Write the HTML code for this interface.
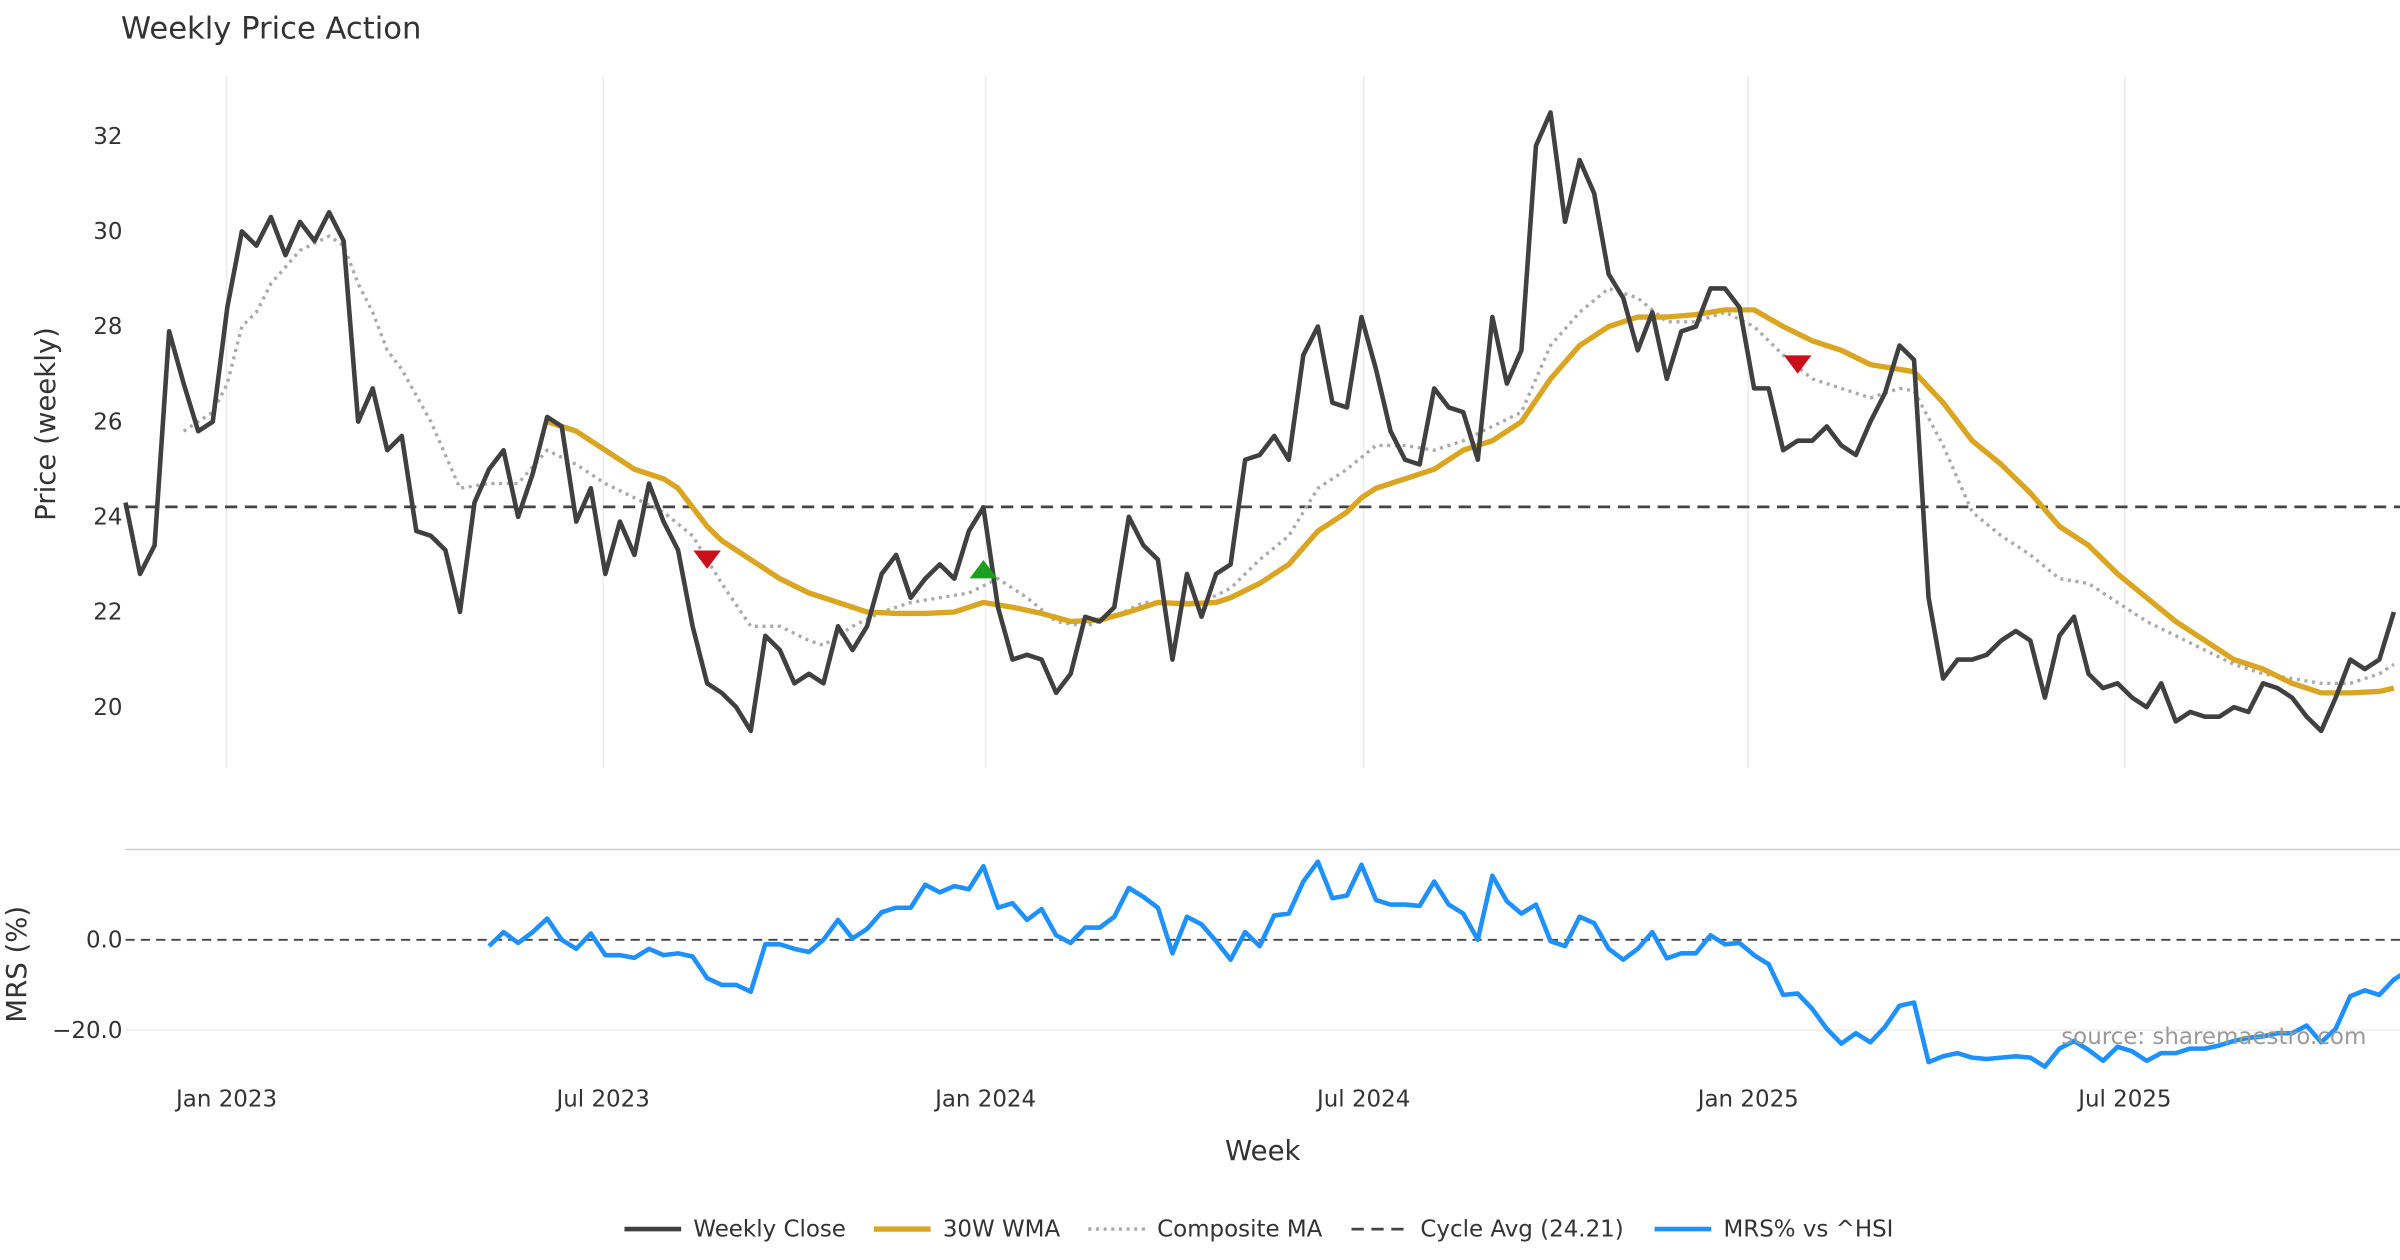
<!DOCTYPE html>
<html><head><meta charset="utf-8"><title>Weekly Price Action</title>
<style>html,body{margin:0;padding:0;background:#fff}svg{display:block;font-family:"DejaVu Sans","Liberation Sans",sans-serif}</style>
</head><body>
<svg id="chart" width="2400" height="1260" viewBox="0 0 1568 823.2" xmlns="http://www.w3.org/2000/svg">
<rect width="1568" height="823.2" fill="#fff"/>
<text x="79" y="25" font-size="20" fill="#333">Weekly Price Action</text>
<g id="grid"></g>
<g id="main"></g>
<g id="lower"></g>
<text transform="translate(36,277) rotate(-90)" text-anchor="middle" font-size="18" fill="#333">Price (weekly)</text>
<text transform="translate(17,630) rotate(-90)" text-anchor="middle" font-size="18" fill="#333">MRS (%)</text>
<text x="825" y="758" text-anchor="middle" font-size="18" fill="#333">Week</text>
<text x="1546" y="682" text-anchor="end" font-size="15" fill="#999">source: sharemaestro.com</text>
<g font-size="15" fill="#333">
  <g><line x1="408" y1="803" x2="445" y2="803" stroke="#404040" stroke-width="3"/><text x="453" y="808">Weekly Close</text></g>
  <g><line x1="571" y1="803" x2="608" y2="803" stroke="#DAA520" stroke-width="3.5"/><text x="616" y="808">30W WMA</text></g>
  <g><line x1="711" y1="803" x2="748" y2="803" stroke="#aaa" stroke-width="2.2" stroke-dasharray="2,3"/><text x="756" y="808">Composite MA</text></g>
  <g><line x1="883" y1="803" x2="920" y2="803" stroke="#444" stroke-width="1.8" stroke-dasharray="8,5"/><text x="928" y="808">Cycle Avg (24.21)</text></g>
  <g><line x1="1081" y1="803" x2="1118" y2="803" stroke="#1E90FF" stroke-width="3"/><text x="1126" y="808">MRS% vs ^HSI</text></g>
</g>
</svg>
<script>
const closeVals=[24.3,22.8,23.4,27.9,26.8,25.8,26.0,28.4,30.0,29.7,30.3,29.5,30.2,29.8,30.4,29.8,26.0,26.7,25.4,25.7,23.7,23.6,23.3,22.0,24.3,25.0,25.4,24.0,24.9,26.1,25.9,23.9,24.6,22.8,23.9,23.2,24.7,23.9,23.3,21.7,20.5,20.3,20.0,19.5,21.5,21.2,20.5,20.7,20.5,21.7,21.2,21.7,22.8,23.2,22.3,22.7,23.0,22.7,23.7,24.2,22.1,21.0,21.1,21.0,20.3,20.7,21.9,21.8,22.1,24.0,23.4,23.1,21.0,22.8,21.9,22.8,23.0,25.2,25.3,25.7,25.2,27.4,28.0,26.4,26.3,28.2,27.1,25.8,25.2,25.1,26.7,26.3,26.2,25.2,28.2,26.8,27.5,31.8,32.5,30.2,31.5,30.8,29.1,28.6,27.5,28.3,26.9,27.9,28.0,28.8,28.8,28.4,26.7,26.7,25.4,25.6,25.6,25.9,25.5,25.3,26.0,26.6,27.6,27.3,22.3,20.6,21.0,21.0,21.1,21.4,21.6,21.4,20.2,21.5,21.9,20.7,20.4,20.5,20.2,20.0,20.5,19.7,19.9,19.8,19.8,20.0,19.9,20.5,20.4,20.2,19.8,19.5,20.2,21.0,20.8,21.0,22.0];
const wmaWeeks=[29,31,32,33,35,37,38,39,40,41,43,45,47,49,51,53,55,57,59,61,63,65,67,69,71,73,75,76,78,80,82,84,85,86,88,90,92,94,96,98,100,102,104,106,108,110,112,114,116,118,120,122,123,125,127,129,131,133,135,137,139,141,143,145,147,149,151,153,155,156];
const wmaVals=[26.0,25.8,25.6,25.4,25.0,24.8,24.6,24.2,23.8,23.5,23.1,22.7,22.4,22.2,22.0,21.97,21.97,22.0,22.2,22.1,21.97,21.8,21.83,22.0,22.2,22.17,22.2,22.3,22.6,23.0,23.7,24.1,24.4,24.6,24.8,25.0,25.4,25.6,26.0,26.9,27.6,28.0,28.2,28.2,28.25,28.35,28.35,28.0,27.7,27.5,27.2,27.1,27.05,26.4,25.6,25.1,24.5,23.8,23.4,22.8,22.3,21.8,21.4,21.0,20.8,20.5,20.3,20.3,20.33,20.4];
const compWeeks=[4,6,7,8,9,10,12,14,15,16,17,18,19,21,23,25,27,29,31,33,35,37,39,41,43,45,47,48,50,52,54,56,58,60,62,64,66,68,70,72,74,76,78,80,82,84,86,88,90,92,94,96,98,100,102,104,106,108,110,112,114,116,118,120,122,123,125,127,129,131,133,135,137,139,141,143,145,147,149,151,153,155,156];
const compVals=[25.8,26.2,26.8,28.0,28.3,28.9,29.6,29.9,29.7,28.9,28.3,27.5,27.1,26.0,24.6,24.7,24.7,25.4,25.1,24.7,24.4,24.1,23.6,22.6,21.7,21.7,21.4,21.3,21.7,22.0,22.2,22.3,22.4,22.7,22.3,21.8,21.7,21.9,22.2,22.2,22.2,22.5,23.1,23.6,24.6,25.0,25.5,25.5,25.4,25.6,25.9,26.2,27.6,28.3,28.8,28.6,28.1,28.1,28.3,28.0,27.4,26.9,26.7,26.5,26.7,26.65,25.5,24.1,23.6,23.2,22.7,22.6,22.2,21.8,21.5,21.2,20.9,20.7,20.6,20.5,20.5,20.7,20.9];
const cycleAvg=24.21;
const signalWeeks=[40,59,115];
const signalVals=[23.1,22.9,27.2];
const signalTypes=["sell","buy","sell"];
const mrsStart=25;
const mrsVals=[-1.4,1.7,-0.7,1.7,4.7,0,-2,1.4,-3.4,-3.4,-4,-2,-3.4,-3,-3.7,-8.5,-10,-10,-11.5,-1,-1,-2,-2.7,0,4.4,0.3,2.4,6.1,7.1,7.1,12.2,10.5,11.9,11.2,16.3,7.1,8.1,4.4,6.8,1,-0.7,2.7,2.7,5.1,11.5,9.5,7.1,-3,5.1,3.4,-0.3,-4.4,1.7,-1.4,5.4,5.8,12.9,17.3,9.2,9.8,16.6,8.8,7.8,7.8,7.5,12.9,7.8,5.8,0,14.2,8.5,5.8,7.8,-0.3,-1.4,5.1,3.7,-2,-4.4,-2,1.7,-4.1,-3,-3,1,-1,-0.7,-3.4,-5.4,-12.2,-11.9,-15.3,-19.7,-23,-20.7,-22.7,-19.3,-14.6,-13.9,-27.1,-25.8,-25.1,-26.1,-26.4,-26.1,-25.8,-26.1,-28.1,-24.1,-22.4,-24.4,-26.8,-23.7,-24.7,-26.8,-25.1,-25.1,-24.1,-24.1,-23.4,-22.4,-21.7,-21.4,-20.7,-20.7,-19,-22.7,-19.7,-12.5,-11.2,-12.2,-8.8,-6.8];
const priceTicks=[20,22,24,26,28,30,32];
const mrsTicks=[0,-20];
const mrsTickLabels=["0.0","\u221220.0"];
const dateTickWeeks=[6.95,32.85,59.15,85.15,111.6,137.5];
const dateTickLabels=["Jan 2023","Jul 2023","Jan 2024","Jul 2024","Jan 2025","Jul 2025"];

const NS="http://www.w3.org/2000/svg";
const xS=i=>82+9.5*i;
const yP=v=>462-(v-20)*(373/12);
const yM=v=>614-v*2.95;
function mk(tag,attrs,parent){const e=document.createElementNS(NS,tag);for(const k in attrs)e.setAttribute(k,attrs[k]);parent.appendChild(e);return e;}
const grid=document.getElementById('grid'),main=document.getElementById('main'),lower=document.getElementById('lower');

dateTickWeeks.forEach((w,k)=>{
  const l=mk('line',{x1:xS(w),x2:xS(w),y1:50,y2:502,stroke:'#ebebeb','stroke-width':1},grid);
  
  
  const t=mk('text',{x:xS(w),y:723,'text-anchor':'middle','font-size':15,fill:'#333'},grid);
  t.textContent=dateTickLabels[k];
  
  
});
priceTicks.forEach(v=>{
  const t=mk('text',{x:80,y:yP(v)+5,'text-anchor':'end','font-size':15,fill:'#333'},grid);
  t.textContent=v;
  
  
});
const sep=mk('line',{x1:82,x2:1568,y1:555,y2:555,stroke:'#ccc','stroke-width':1},grid);


mrsTicks.forEach((v,k)=>{
  const g=mk('line',{x1:82,x2:1568,y1:yM(v),y2:yM(v),stroke:v===0?'#444':'#eee','stroke-width':v===0?1.2:1,'stroke-dasharray':v===0?'6,4':'none'},grid);
  
  
  const t=mk('text',{x:80,y:yM(v)+5,'text-anchor':'end','font-size':15,fill:'#333'},grid);
  t.textContent=mrsTickLabels[k];
  
  
});

const cyc=mk('line',{x1:82,x2:1568,y1:yP(cycleAvg),y2:yP(cycleAvg),stroke:'#444','stroke-width':1.8,'stroke-dasharray':'8,5'},main);



const comp=mk('polyline',{points:compWeeks.map((w,k)=>xS(w)+','+yP(compVals[k])).join(' '),fill:'none',stroke:'#aaa','stroke-width':2.2,'stroke-dasharray':'2,3'},main);



const wma=mk('polyline',{points:wmaWeeks.map((w,k)=>xS(w)+','+yP(wmaVals[k])).join(' '),fill:'none',stroke:'#DAA520','stroke-width':3.5,'stroke-linejoin':'round'},main);



const cl=mk('polyline',{points:closeVals.map((v,i)=>xS(i)+','+yP(v)).join(' '),fill:'none',stroke:'#404040','stroke-width':3,'stroke-linejoin':'round'},main);



signalWeeks.forEach((w,k)=>{
  const x=xS(w),y=yP(signalVals[k]);
  const pts=signalTypes[k]==='sell'?`${x-9},${y-6} ${x+9},${y-6} ${x},${y+6}`:`${x-9},${y+6} ${x+9},${y+6} ${x},${y-6}`;
  const p=mk('polygon',{points:pts,fill:signalTypes[k]==='sell'?'#C8101A':'#1E9E1E'},main);
  
  
});

const mrs=mk('polyline',{points:mrsVals.map((v,k)=>xS(mrsStart+k)+','+yM(v)).join(' '),fill:'none',stroke:'#1E90FF','stroke-width':3,'stroke-linejoin':'round'},lower);


</script>
</body></html>
